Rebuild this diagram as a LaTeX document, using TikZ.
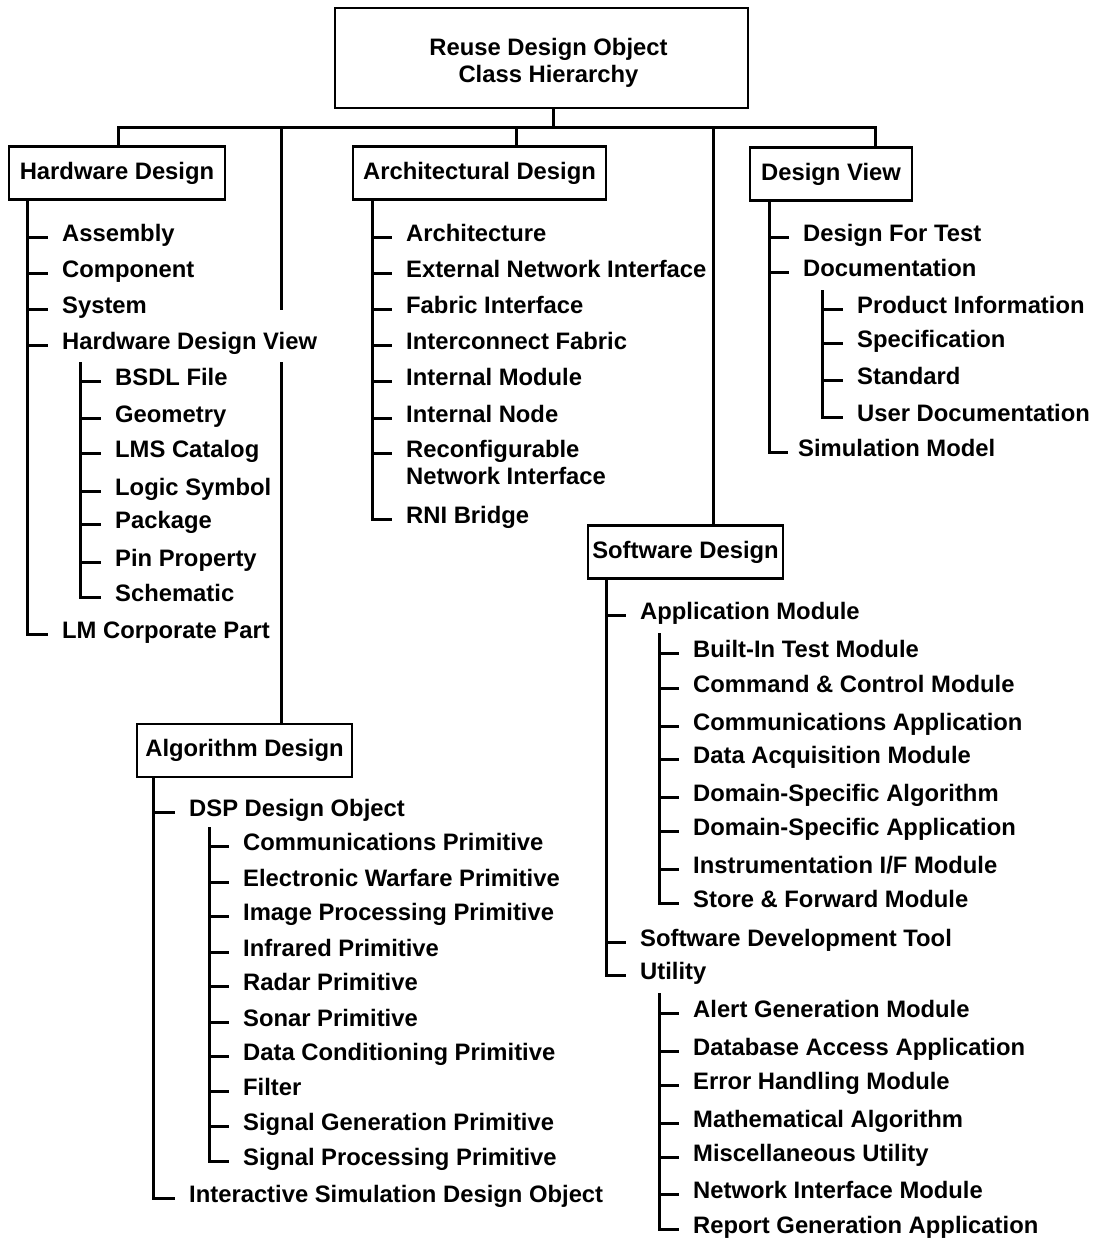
\documentclass[tikz,border=0pt]{standalone}
\usepackage{fontspec}
\setmainfont{Liberation Sans}
\begin{document}
\begin{tikzpicture}[x=1pt,y=-1pt,
  every node/.style={font=\fontsize{23.8}{27}\selectfont\bfseries, inner sep=0pt},
  classbox/.style={draw, line width=2.4pt, minimum height=53pt, align=center},
  item/.style={anchor=west, text height=13pt, text depth=5pt},
  wire/.style={line width=3pt},
]
\useasboundingbox (0,0) rectangle (1096,1239);

% ---- root and top-level classes ----
\node[classbox, minimum width=413pt, minimum height=100pt] (root) at (541.5,58) {};
\node[align=center] (roottitle) at (548.5,63) {Reuse Design Object\\Class Hierarchy};
\node[classbox, minimum width=216pt] (hw)   at (117,173)    {Hardware Design};
\node[classbox, minimum width=253pt] (arch) at (479.5,173)  {Architectural Design};
\node[classbox, minimum width=162pt] (dv)   at (831,174)    {Design View};
\node[classbox, minimum width=195pt] (sw)   at (685.5,552)  {Software Design};
\node[classbox, minimum width=215pt] (alg)  at (244.5,750.5){Algorithm Design};

% ---- bus joining the root to its subclasses ----
\coordinate (stem) at (553,127);
\coordinate (jHW)  at (118,127);
\coordinate (jAlg) at (281,127);
\coordinate (jArch) at (516,127);
\coordinate (jSW)  at (713,127);
\coordinate (jDV)  at (875,127);
\coordinate (algA) at (281,310);
\coordinate (algB) at (281,362);

\draw[wire] (root.south -| stem) -- (stem);
\draw[wire] (jHW |- hw.north) -- (jHW) -- (jDV) -- (jDV |- dv.north);
\draw[wire] (jArch) -- (jArch |- arch.north);
\draw[wire] (jSW) -- (jSW |- sw.north);
\draw[wire] (jAlg) -- (algA);
\draw[wire] (algB) -- (algB |- alg.north);

% ---- Hardware Design ----
\coordinate (hwT) at (27,0);
\foreach \n/\y/\t in {asm/237/Assembly, cmp/273/Component, sys/309/System,
    hdv/345/{Hardware Design View}, lmcp/634/{LM Corporate Part}} {
  \node[item] (\n) at (62,\y) {\t};
  \draw[wire] (hwT |- \n.west) -- ([xshift=-14pt]\n.west);
}
\draw[wire] (hwT |- hw.south) -- (hwT |- lmcp.west) -- ([xshift=-14pt]lmcp.west);

\coordinate (hdvT) at (80,362);
\foreach \n/\y/\t in {bsdl/381/{BSDL File}, geo/418/Geometry, lms/453/{LMS Catalog},
    lsym/491/{Logic Symbol}, pkg/524/Package, pin/562/{Pin Property},
    sch/597/Schematic} {
  \node[item] (\n) at (115,\y) {\t};
  \draw[wire] (hdvT |- \n.west) -- ([xshift=-14pt]\n.west);
}
\draw[wire] (hdvT) -- (hdvT |- sch.west) -- ([xshift=-14pt]sch.west);

% ---- Architectural Design ----
\coordinate (archT) at (372,0);
\foreach \n/\y/\t in {archi/237/Architecture, eni/273/{External Network Interface},
    fabi/309/{Fabric Interface}, icf/345/{Interconnect Fabric},
    imod/381/{Internal Module}, inode/418/{Internal Node},
    rni/453/{\begin{tabular}[t]{@{}l@{}}Reconfigurable\\Network Interface\end{tabular}},
    rnib/519/{RNI Bridge}} {
  \node[item] (\n) at (406,\y) {\t};
  \draw[wire] (archT |- \n.west) -- ([xshift=-14pt]\n.west);
}
\draw[wire] (archT |- arch.south) -- (archT |- rnib.west) -- ([xshift=-14pt]rnib.west);

% ---- Design View ----
\coordinate (dvT) at (769,0);
\foreach \n/\y/\t in {dft/237/{Design For Test}, docu/272/Documentation} {
  \node[item] (\n) at (803,\y) {\t};
  \draw[wire] (dvT |- \n.west) -- ([xshift=-14pt]\n.west);
}
\node[item] (simm) at (798,452) {Simulation Model};
\draw[wire] (dvT |- dv.south) -- (dvT |- simm.west) -- ([xshift=-10pt]simm.west);

\coordinate (docT) at (822,290);
\foreach \n/\y/\t in {prod/309/{Product Information}, spec/343/Specification,
    std/380/Standard, udoc/417/{User Documentation}} {
  \node[item] (\n) at (857,\y) {\t};
  \draw[wire] (docT |- \n.west) -- ([xshift=-14pt]\n.west);
}
\draw[wire] (docT) -- (docT |- udoc.west) -- ([xshift=-14pt]udoc.west);

% ---- Software Design ----
\coordinate (swT) at (606,0);
\foreach \n/\y/\t in {appm/615/{Application Module}, sdt/942/{Software Development Tool},
    util/975/Utility} {
  \node[item] (\n) at (640,\y) {\t};
  \draw[wire] (swT |- \n.west) -- ([xshift=-14pt]\n.west);
}
\draw[wire] (swT |- sw.south) -- (swT |- util.west) -- ([xshift=-14pt]util.west);

\coordinate (appT) at (659,633);
\foreach \n/\y/\t in {bit/653/{Built-In Test Module}, cc/688/{Command \& Control Module},
    capp/726/{Communications Application}, daq/759/{Data Acquisition Module},
    dsalg/797/{Domain-Specific Algorithm}, dsapp/831/{Domain-Specific Application},
    instr/869/{Instrumentation I/F Module}, sfm/903/{Store \& Forward Module}} {
  \node[item] (\n) at (693,\y) {\t};
  \draw[wire] (appT |- \n.west) -- ([xshift=-14pt]\n.west);
}
\draw[wire] (appT) -- (appT |- sfm.west) -- ([xshift=-14pt]sfm.west);

\coordinate (utilT) at (659,993);
\foreach \n/\y/\t in {alert/1013/{Alert Generation Module},
    dba/1051/{Database Access Application}, err/1085/{Error Handling Module},
    math/1123/{Mathematical Algorithm}, misc/1157/{Miscellaneous Utility},
    nim/1194/{Network Interface Module}, rga/1229/{Report Generation Application}} {
  \node[item] (\n) at (693,\y) {\t};
  \draw[wire] (utilT |- \n.west) -- ([xshift=-14pt]\n.west);
}
\draw[wire] (utilT) -- (utilT |- rga.west) -- ([xshift=-14pt]rga.west);

% ---- Algorithm Design ----
\coordinate (algT) at (153,0);
\foreach \n/\y/\t in {dsp/812/{DSP Design Object},
    isdo/1198/{Interactive Simulation Design Object}} {
  \node[item] (\n) at (189,\y) {\t};
  \draw[wire] (algT |- \n.west) -- ([xshift=-14pt]\n.west);
}
\draw[wire] (algT |- alg.south) -- (algT |- isdo.west) -- ([xshift=-14pt]isdo.west);

\coordinate (dspT) at (209,827);
\foreach \n/\y/\t in {commp/846/{Communications Primitive},
    ewp/882/{Electronic Warfare Primitive}, imgp/916/{Image Processing Primitive},
    irp/952/{Infrared Primitive}, radp/986/{Radar Primitive},
    sonp/1022/{Sonar Primitive}, dcp/1056/{Data Conditioning Primitive},
    filt/1091/Filter, sgp/1126/{Signal Generation Primitive},
    spp/1161/{Signal Processing Primitive}} {
  \node[item] (\n) at (243,\y) {\t};
  \draw[wire] (dspT |- \n.west) -- ([xshift=-14pt]\n.west);
}
\draw[wire] (dspT) -- (dspT |- spp.west) -- ([xshift=-14pt]spp.west);
\end{tikzpicture}
\end{document}
